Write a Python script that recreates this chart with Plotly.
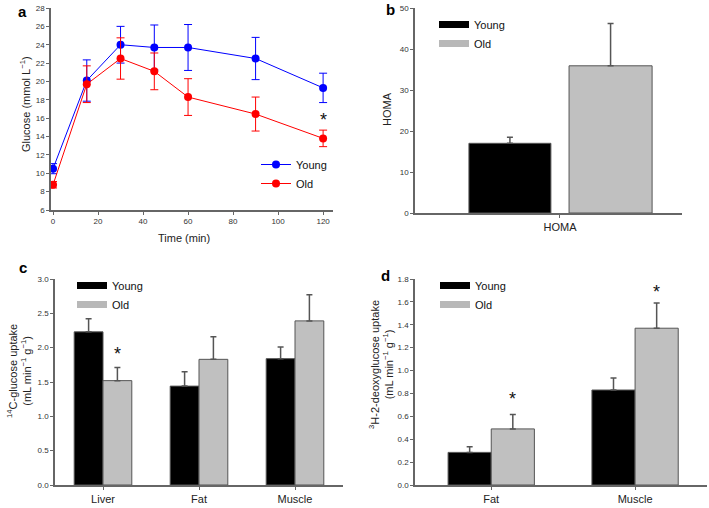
import plotly.graph_objects as go

# ---------------- data ----------------
time_min = [0, 15, 30, 45, 60, 90, 120]
young_glucose = [10.5, 20.1, 24.0, 23.7, 23.7, 22.5, 19.3]
young_glucose_err = [0.55, 2.25, 2.0, 2.45, 2.5, 2.3, 1.6]
old_glucose = [8.75, 19.7, 22.5, 21.1, 18.3, 16.45, 13.8]
old_glucose_err = [0.35, 2.0, 2.25, 2.0, 2.0, 1.85, 0.9]

homa_cat = ["HOMA"]
young_homa = [17.0]
young_homa_err = [1.5]
old_homa = [35.9]
old_homa_err = [10.3]

c_cats = ["Liver", "Fat", "Muscle"]
young_c14 = [2.23, 1.44, 1.84]
young_c14_err = [0.19, 0.21, 0.17]
old_c14 = [1.52, 1.83, 2.39]
old_c14_err = [0.19, 0.33, 0.38]

d_cats = ["Fat", "Muscle"]
young_dg = [0.285, 0.83]
young_dg_err = [0.05, 0.105]
old_dg = [0.49, 1.37]
old_dg_err = [0.125, 0.22]

y_ticks_a = list(range(6, 29, 2))
x_ticks_a = [0, 20, 40, 60, 80, 100, 120]

# ---------------- style ----------------
W, H = 709, 508
BLUE = "#0000ff"
RED = "#ff0000"
BLACK = "#000000"
GREY = "#c0c0c0"
EDGE = "#555555"
AXC = "#666666"
FONT = "Liberation Sans, Arial, sans-serif"


def px_x(p):
    return p / W


def px_y(p):
    return 1 - p / H


fig = go.Figure()

# ---- panel a ----
fig.add_trace(go.Scatter(
    x=time_min, y=young_glucose, name="Young", mode="lines+markers",
    line=dict(color=BLUE, width=1), marker=dict(color=BLUE, size=8),
    error_y=dict(type="data", array=young_glucose_err, color=BLUE, thickness=1, width=4),
    xaxis="x", yaxis="y", legend="legend"))
fig.add_trace(go.Scatter(
    x=time_min, y=old_glucose, name="Old", mode="lines+markers",
    line=dict(color=RED, width=1), marker=dict(color=RED, size=8),
    error_y=dict(type="data", array=old_glucose_err, color=RED, thickness=1, width=4),
    xaxis="x", yaxis="y", legend="legend"))


def err_up(arr):
    return dict(type="data", array=arr, arrayminus=[0] * len(arr), symmetric=False,
                color=EDGE, thickness=1.5, width=3)


# ---- panel b ----
fig.add_trace(go.Bar(x=homa_cat, y=young_homa, marker=dict(color=BLACK, line=dict(color=EDGE, width=1)),
                     error_y=err_up(young_homa_err), width=0.307, offset=-0.341,
                     showlegend=False, xaxis="x2", yaxis="y2"))
fig.add_trace(go.Bar(x=homa_cat, y=old_homa, marker=dict(color=GREY, line=dict(color=EDGE, width=1)),
                     error_y=err_up(old_homa_err), width=0.311, offset=0.034,
                     showlegend=False, xaxis="x2", yaxis="y2"))

# ---- panel c ----
fig.add_trace(go.Bar(x=c_cats, y=young_c14, marker=dict(color=BLACK, line=dict(color=EDGE, width=1)),
                     error_y=err_up(young_c14_err), showlegend=False, xaxis="x3", yaxis="y3",
                     offsetgroup="y"))
fig.add_trace(go.Bar(x=c_cats, y=old_c14, marker=dict(color=GREY, line=dict(color=EDGE, width=1)),
                     error_y=err_up(old_c14_err), showlegend=False, xaxis="x3", yaxis="y3",
                     offsetgroup="o"))

# ---- panel d ----
fig.add_trace(go.Bar(x=d_cats, y=young_dg, marker=dict(color=BLACK, line=dict(color=EDGE, width=1)),
                     error_y=err_up(young_dg_err), showlegend=False, xaxis="x4", yaxis="y4",
                     offsetgroup="y"))
fig.add_trace(go.Bar(x=d_cats, y=old_dg, marker=dict(color=GREY, line=dict(color=EDGE, width=1)),
                     error_y=err_up(old_dg_err), showlegend=False, xaxis="x4", yaxis="y4",
                     offsetgroup="o"))

# legend-only swatches (wide rectangles) for bar panels
for xa, ya, lg in [("x2", "y2", "legend2"), ("x3", "y3", "legend3"), ("x4", "y4", "legend4")]:
    fig.add_trace(go.Scatter(x=[None], y=[None], mode="lines", name="Young",
                             line=dict(color=BLACK, width=7), xaxis=xa, yaxis=ya, legend=lg))
    fig.add_trace(go.Scatter(x=[None], y=[None], mode="lines", name="Old",
                             line=dict(color="#b8b8b8", width=7), xaxis=xa, yaxis=ya, legend=lg))

axis_common = dict(showline=True, linecolor=AXC, linewidth=1.5, ticks="outside", ticklen=3,
                   tickcolor=AXC, showgrid=False, zeroline=False, mirror=False, automargin=False,
                   tickfont=dict(size=8, color="#333333", family=FONT))
cat_axis = dict(axis_common, tickfont=dict(size=11, color="#222222", family=FONT))

dom_a_x = [px_x(51), px_x(333)]
dom_a_y = [px_y(210), px_y(8)]
dom_b_x = [px_x(415), px_x(682)]
dom_b_y = [px_y(213), px_y(8)]
dom_c_x = [px_x(55), px_x(343)]
dom_c_y = [px_y(485), px_y(279)]
dom_d_x = [px_x(415), px_x(707)]
dom_d_y = [px_y(485), px_y(279)]

legend_common = dict(bgcolor="rgba(0,0,0,0)", borderwidth=0, xanchor="left", yanchor="top",
                     font=dict(size=11, color="#111111", family=FONT), itemwidth=30,
                     tracegroupgap=0)

fig.update_layout(
    template="none",
    width=W, height=H, margin=dict(l=0, r=0, t=0, b=0, autoexpand=False),
    paper_bgcolor="white", plot_bgcolor="white",
    font=dict(family=FONT, color="#222222"),
    barmode="group", bargap=0.4, bargroupgap=0,
    xaxis=dict(axis_common, domain=dom_a_x, anchor="y", range=[-0.9, 124.4], tickvals=x_ticks_a),
    yaxis=dict(axis_common, domain=dom_a_y, anchor="x", range=[6, 28], tickvals=y_ticks_a),
    xaxis2=dict(cat_axis, domain=dom_b_x, anchor="y2", type="category", range=[-0.543, 0.457]),
    yaxis2=dict(axis_common, domain=dom_b_y, anchor="x2", range=[0, 50], dtick=10),
    xaxis3=dict(cat_axis, domain=dom_c_x, anchor="y3", type="category", range=[-0.5, 2.5]),
    yaxis3=dict(axis_common, domain=dom_c_y, anchor="x3", range=[0, 3], dtick=0.5, tickformat=".1f"),
    xaxis4=dict(cat_axis, domain=dom_d_x, anchor="y4", type="category", range=[-0.53, 1.5]),
    yaxis4=dict(axis_common, domain=dom_d_y, anchor="x4", range=[0, 1.8], dtick=0.2, tickformat=".1f"),
    legend=dict(legend_common, x=px_x(256), y=px_y(150)),
    legend2=dict(legend_common, x=px_x(434), y=px_y(10)),
    legend3=dict(legend_common, x=px_x(72), y=px_y(271)),
    legend4=dict(legend_common, x=px_x(435), y=px_y(271)),
)

ann = []
C = dict(xanchor="center", yanchor="middle", showarrow=False)
# panel letters
for letter, x, y in [("a", 22, 12), ("b", 390, 10), ("c", 23, 267), ("d", 385, 275)]:
    ann.append(dict(C, text=f"<b>{letter}</b>", x=px_x(x), y=px_y(y), xref="paper", yref="paper",
                    font=dict(size=15, color="#000000", family=FONT)))
# axis titles
TF = dict(size=11, color="#222222", family=FONT)
ann.append(dict(C, text="Glucose (mmol L<sup>−1</sup>)", x=px_x(25), y=px_y(104), xref="paper", yref="paper",
                textangle=-90, font=TF))
ann.append(dict(C, text="Time (min)", x=px_x(184), y=px_y(238), xref="paper", yref="paper", font=TF))
ann.append(dict(C, text="HOMA", x=px_x(387), y=px_y(109), xref="paper", yref="paper",
                textangle=-90, font=TF))
ann.append(dict(C, text="<sup>14</sup>C-glucose uptake<br>(mL min<sup>−1</sup> g<sup>−1</sup>)",
                x=px_x(19), y=px_y(371), xref="paper", yref="paper", textangle=-90, font=TF))
ann.append(dict(C, text="<sup>3</sup>H-2-deoxyglucose uptake<br>(mL min<sup>−1</sup> g<sup>−1</sup>)",
                x=px_x(381), y=px_y(365), xref="paper", yref="paper", textangle=-90, font=TF))
# significance asterisks
SF = dict(size=18, color="#111111", family=FONT)
ann.append(dict(C, text="*", x=time_min[-1], y=16.2, xref="x", yref="y", font=SF, yshift=-4))
ann.append(dict(C, text="*", x=0.19, y=50.3, xref="x2", yref="y2", font=SF, yshift=-4))
ann.append(dict(C, text="*", x=0.15, y=1.97, xref="x3", yref="y3", font=SF, yshift=-4))
ann.append(dict(C, text="*", x=0.15, y=0.79, xref="x4", yref="y4", font=SF, yshift=-4))
ann.append(dict(C, text="*", x=1.15, y=1.72, xref="x4", yref="y4", font=SF, yshift=-4))
fig.update_layout(annotations=ann)

fig.write_html("out.html", config={"displayModeBar": False},
               post_script="document.body.style.margin='0px';")
